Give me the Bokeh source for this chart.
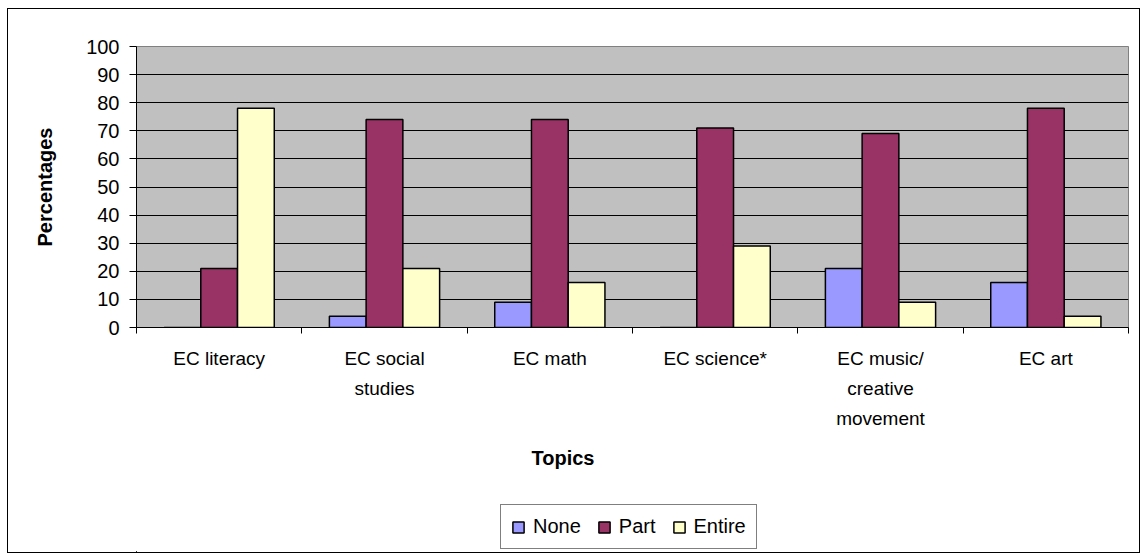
from bokeh.plotting import figure
from bokeh.layouts import column
from bokeh.models import Range1d, FixedTicker, Legend, LegendItem, Title, ColumnDataSource
from bokeh.transform import dodge
from bokeh.embed import file_html
from bokeh.resources import INLINE

topics = ["EC literacy", "EC social\nstudies", "EC math", "EC science*",
          "EC music/\ncreative\nmovement", "EC art"]
none_vals = [0, 4, 9, 0, 21, 16]
part_vals = [21, 74, 74, 71, 69, 78]
entire_vals = [78, 21, 16, 29, 9, 4]
series = ["None", "Part", "Entire"]
colors = ["#9999FF", "#993366", "#FFFFCC"]
y_ticks = list(range(0, 101, 10))

centers = [i + 0.5 for i in range(len(topics))]
bounds = list(range(len(topics) + 1))
src = ColumnDataSource(dict(x=centers, none=none_vals, part=part_vals, entire=entire_vals))

FONT = "Liberation Sans"
bw = 1 / 4.5
keys = ["none", "part", "entire"]
offsets = [-bw, 0, bw]

p = figure(frame_width=992, frame_height=281, x_range=Range1d(0, len(topics)), y_range=Range1d(0, 100),
           output_backend="svg", toolbar_location=None,
           min_border_left=128, min_border_right=11, min_border_top=37, min_border_bottom=165)
p.background_fill_color = "#C0C0C0"
p.border_fill_color = "white"
p.outline_line_color = "#808080"
p.outline_line_width = 1

p.xgrid.grid_line_color = None
p.ygrid.grid_line_color = "black"
p.ygrid.grid_line_width = 1
p.ygrid.ticker = FixedTicker(ticks=y_ticks)

for key, off, col in zip(keys, offsets, colors):
    p.vbar(x=dodge("x", off), top=key, width=bw, source=src,
           fill_color=col, line_color="black", line_width=1.5)

# y axis
ya = p.yaxis[0]
ya.ticker = FixedTicker(ticks=y_ticks)
ya.axis_line_color = "black"
ya.major_tick_out = 7
ya.major_tick_in = 0
ya.minor_tick_line_color = None
ya.major_label_text_font = FONT
ya.major_label_text_font_size = "20px"
ya.major_label_text_color = "black"
ya.major_label_standoff = 10
ya.axis_label = "Percentages"
ya.axis_label_text_font = FONT
ya.axis_label_text_font_size = "20px"
ya.axis_label_text_font_style = "bold"
ya.axis_label_text_color = "black"
ya.axis_label_standoff = 27

# x axis
xa = p.xaxis[0]
xa.ticker = FixedTicker(ticks=centers, minor_ticks=bounds)
xa.major_label_overrides = {c: t for c, t in zip(centers, topics)}
xa.axis_line_color = "black"
xa.major_tick_line_color = None
xa.minor_tick_line_color = "black"
xa.minor_tick_out = 6
xa.minor_tick_in = 0
xa.major_label_text_font = FONT
xa.major_label_text_font_size = "19px"
xa.major_label_text_color = "black"
xa.major_label_text_line_height = 1.45
xa.major_label_standoff = 14

t = Title(text="Topics", align="left", offset=395, text_font=FONT, text_color="black",
          text_font_size="20px", text_font_style="bold", standoff=25)
p.add_layout(t, "below")

# legend strip below the chart (same series, ranges set so the bars fall outside the strip)
p2 = figure(width=1131, height=60, x_range=Range1d(1000, 1001), y_range=Range1d(1000, 1001),
            x_axis_type=None, y_axis_type=None, output_backend="svg", toolbar_location=None,
            min_border=0)
p2.outline_line_color = None
p2.grid.visible = False
items = []
for s, key, off, col in zip(series, keys, offsets, colors):
    r = p2.vbar(x=dodge("x", off), top=key, width=bw, source=src,
                fill_color=col, line_color="black", line_width=1.5)
    items.append(LegendItem(label=s, renderers=[r]))
legend = Legend(items=items, orientation="horizontal", location=(364, 3),
                label_text_font=FONT, label_text_font_size="20px", label_text_color="black",
                border_line_color="black", border_line_width=1,
                glyph_width=14, glyph_height=14, spacing=16, label_standoff=8,
                padding=10, margin=0)
p2.add_layout(legend, "center")

layout = column(p, p2, spacing=0,
                styles={"border": "1px solid #000000", "margin-left": "7px", "margin-top": "8px"})

open("out.html", "w").write(file_html(layout, INLINE))
